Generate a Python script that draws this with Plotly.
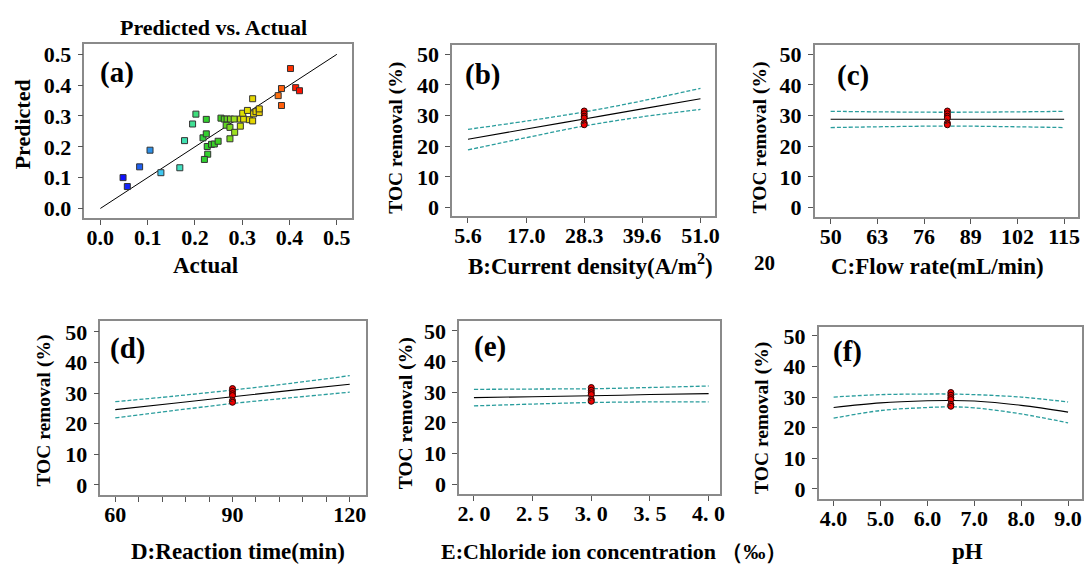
import plotly.graph_objects as go

W, H = 1088, 566

# ---------------- data ----------------
actual = [0.048, 0.057, 0.083, 0.105, 0.128, 0.168, 0.178, 0.195, 0.202, 0.224,
          0.217, 0.224, 0.226, 0.227, 0.220, 0.235, 0.241, 0.249, 0.255, 0.262,
          0.268, 0.275, 0.283, 0.296, 0.303, 0.315, 0.266, 0.274, 0.274, 0.284,
          0.296, 0.301, 0.311, 0.322, 0.322, 0.324, 0.329, 0.336, 0.336, 0.376,
          0.383, 0.383, 0.402, 0.413, 0.421]
predicted = [0.100, 0.071, 0.135, 0.189, 0.116, 0.132, 0.220, 0.274, 0.306, 0.289,
             0.229, 0.242, 0.201, 0.176, 0.159, 0.208, 0.209, 0.218, 0.293, 0.290,
             0.290, 0.290, 0.290, 0.290, 0.290, 0.288, 0.270, 0.263, 0.226, 0.247,
             0.267, 0.309, 0.318, 0.356, 0.284, 0.307, 0.314, 0.311, 0.323, 0.366,
             0.389, 0.334, 0.454, 0.392, 0.382]

b_x = [5.6, 17.0, 28.3, 39.6, 51.0]
b_mean = [22.3, 25.6, 28.9, 32.2, 35.5]
b_upper = [25.5, 28.2, 31.2, 34.8, 38.9]
b_lower = [18.8, 22.8, 26.6, 29.6, 32.0]

c_x = [50, 66, 82.5, 99, 115]
c_mean = [28.8, 28.8, 28.8, 28.8, 28.8]
c_upper = [31.4, 31.2, 31.1, 31.2, 31.4]
c_lower = [26.1, 26.4, 26.6, 26.4, 26.1]

d_x = [60, 75, 90, 105, 120]
d_mean = [24.6, 26.7, 28.8, 30.9, 32.9]
d_upper = [27.2, 29.0, 31.0, 33.2, 35.7]
d_lower = [21.9, 24.3, 26.6, 28.5, 30.3]

e_x = [2.0, 2.5, 3.0, 3.5, 4.0]
e_mean = [28.2, 28.5, 28.8, 29.2, 29.5]
e_upper = [30.9, 31.0, 31.1, 31.5, 32.0]
e_lower = [25.5, 26.1, 26.6, 26.8, 26.8]

f_x = [4.0, 5.0, 6.0, 6.5, 7.0, 8.0, 9.0]
f_mean = [26.6, 28.1, 28.8, 28.9, 28.7, 27.3, 25.1]
f_upper = [30.0, 30.8, 31.0, 31.0, 30.8, 30.0, 28.4]
f_lower = [23.1, 25.6, 26.6, 26.8, 26.5, 24.5, 21.6]

center_x = {"b": 28.3, "c": 82.5, "d": 90, "e": 3.0, "f": 6.5}
center_toc = [31.5, 30.6, 29.8, 29.2, 27.6, 27.0]

a_ticks = [0.0, 0.1, 0.2, 0.3, 0.4, 0.5]
toc_ticks = [0, 10, 20, 30, 40, 50]
b_ticks = [5.6, 17.0, 28.3, 39.6, 51.0]
c_ticks = [50, 63, 76, 89, 102, 115]
d_ticks = [60, 66, 72, 78, 84, 90, 96, 102, 108, 114, 120]
d_labels = ["60", " ", " ", " ", " ", "90", " ", " ", " ", " ", "120"]
e_ticks = [2.0, 2.5, 3.0, 3.5, 4.0]
e_labels = ["2. 0", "2. 5", "3. 0", "3. 5", "4. 0"]
f_ticks = [4.0, 5.0, 6.0, 7.0, 8.0, 9.0]

# ---------------- styling ----------------
FONT = "'Liberation Serif', 'Times New Roman', serif"
TICKF = dict(family=FONT, size=22, color="black", weight="bold")
TEAL = "#2a9d9d"
FRAME = "#8a8a8a"


def px(x):
    return x / W


def py(y):
    return 1 - y / H


fig = go.Figure()

panels = {
    "a": ("", (83, 352), (42, 218), [-0.0336, 0.5315], [-0.032, 0.532]),
    "b": ("2", (453, 718), (43, 216), [2.50, 53.91], [-2.9, 52.9]),
    "c": ("3", (818, 1083), (43, 217), [45.57, 118.87], [-3.2, 52.9]),
    "d": ("4", (99, 366), (322, 498), [56.19, 124.07], [-3.23, 53.55]),
    "e": ("5", (460, 723), (322, 497), [1.873, 4.10], [-3.2, 53.2]),
    "f": ("6", (822, 1087), (328, 502), [3.682, 9.297], [-3.2, 52.9]),
}

xticks = {
    "a": (a_ticks, ["%.1f" % v for v in a_ticks]),
    "b": (b_ticks, ["%.1f" % v for v in b_ticks]),
    "c": (c_ticks, [str(v) for v in c_ticks]),
    "d": (d_ticks, d_labels),
    "e": (e_ticks, e_labels),
    "f": (f_ticks, ["%.1f" % v for v in f_ticks]),
}

for name, (sfx, (x0, x1), (yt, yb), xr, yr) in panels.items():
    xa = "xaxis" + sfx
    ya = "yaxis" + sfx
    tv, tt = xticks[name]
    if name == "a":
        ytv, ytt = a_ticks, ["%.1f" % v for v in a_ticks]
    else:
        ytv, ytt = toc_ticks, [str(v) for v in toc_ticks]
    fig.layout[xa] = dict(domain=[px(x0), px(x1)], range=xr, anchor="y" + sfx,
                          showgrid=False, zeroline=False, showline=True, mirror=True,
                          linecolor=FRAME, linewidth=1.5, ticks="outside", ticklen=5,
                          tickcolor="#555", tickvals=tv, ticktext=tt, tickfont=TICKF,
                          ticklabelstandoff=-6)
    fig.layout[ya] = dict(domain=[py(yb), py(yt)], range=yr, anchor="x" + sfx,
                          showgrid=False, zeroline=False, showline=True, mirror=True,
                          linecolor=FRAME, linewidth=1.5, ticks="outside", ticklen=5,
                          tickcolor="#555", tickvals=ytv, ticktext=ytt, tickfont=TICKF,
                          ticklabelstandoff=2)

# ---- panel (a) ----
cscale = [[0.0, "#1010ff"], [0.094, "#2060f0"], [0.153, "#2c90e8"], [0.214, "#40c8f0"],
          [0.322, "#40e0c0"], [0.40, "#40e090"], [0.46, "#30d030"], [0.56, "#40d020"],
          [0.635, "#a0e020"], [0.68, "#e0e000"], [0.77, "#e8d000"], [0.88, "#ff7010"],
          [0.95, "#ff3000"], [1.0, "#ff1000"]]
fig.add_trace(go.Scatter(x=[0, 0.5], y=[0, 0.5], mode="lines",
                         line=dict(color="black", width=1), xaxis="x", yaxis="y",
                         showlegend=False, hoverinfo="skip"))
fig.add_trace(go.Scatter(x=actual, y=predicted, mode="markers", xaxis="x", yaxis="y",
                         marker=dict(symbol="square", size=6, color=actual,
                                     colorscale=cscale, cmin=min(actual), cmax=max(actual),
                                     line=dict(color="#333", width=1)),
                         showlegend=False))

# ---- panels (b)-(f) ----
line_data = {
    "b": (b_x, b_mean, b_upper, b_lower),
    "c": (c_x, c_mean, c_upper, c_lower),
    "d": (d_x, d_mean, d_upper, d_lower),
    "e": (e_x, e_mean, e_upper, e_lower),
    "f": (f_x, f_mean, f_upper, f_lower),
}
for name, (xs, m, u, lo) in line_data.items():
    sfx = panels[name][0]
    for ys in (u, lo):
        fig.add_trace(go.Scatter(x=xs, y=ys, mode="lines", line_shape="spline",
                                 line=dict(color=TEAL, width=1.3, dash="4px,2px"),
                                 xaxis="x" + sfx, yaxis="y" + sfx, showlegend=False))
    fig.add_trace(go.Scatter(x=xs, y=m, mode="lines", line_shape="spline",
                             line=dict(color="black", width=1.1),
                             xaxis="x" + sfx, yaxis="y" + sfx, showlegend=False))
    cx = center_x[name]
    fig.add_trace(go.Scatter(x=[cx] * len(center_toc), y=center_toc, mode="markers",
                             marker=dict(symbol="circle", size=6, color="#ee0000",
                                         line=dict(color="#300000", width=1)),
                             xaxis="x" + sfx, yaxis="y" + sfx, showlegend=False))
    fig.add_trace(go.Scatter(x=[cx], y=[27.9], mode="text", text=["2"],
                             textposition="middle left",
                             textfont=dict(family=FONT, size=8, color="#333"),
                             xaxis="x" + sfx, yaxis="y" + sfx, showlegend=False))

# ---------------- text ----------------
def ann(text, x, y, size=23, angle=0, xanchor="center"):
    fig.add_annotation(text=text, x=px(x), y=py(y), xref="paper", yref="paper",
                       showarrow=False, textangle=angle, xanchor=xanchor,
                       yanchor="middle",
                       font=dict(family=FONT, size=size, color="black", weight="bold"))

ann("Predicted vs. Actual", 213, 25, size=22)
ann("Predicted", 21, 123, size=22, angle=-90)
ann("Actual", 205, 266)
ann("TOC removal (%)", 397, 136, size=19.5, angle=-90)
ann("B:Current density(A/m<sup>2</sup>)", 592, 265)
ann("TOC removal (%)", 763, 136, size=19.5, angle=-90)
ann("C:Flow rate(mL/min)", 942, 267)
ann("20", 767, 263, size=21)
ann("TOC removal (%)", 42, 413, size=19.5, angle=-90)
ann("D:Reaction time(min)", 238, 555)
ann("TOC removal (%)", 406, 415, size=19.5, angle=-90)
ann("E:Chloride ion concentration （‰）", 440, 555, xanchor="left", size=22)
ann("TOC removal (%)", 765, 420, size=19.5, angle=-90)
ann("pH", 972, 555)

ann("(a)", 97, 70, size=29, xanchor="left")
ann("(b)", 464, 72, size=29, xanchor="left")
ann("(c)", 838, 73, size=29, xanchor="left")
ann("(d)", 107, 350, size=29, xanchor="left")
ann("(e)", 473, 348, size=29, xanchor="left")
ann("(f)", 834, 353, size=29, xanchor="left")

fig.update_layout(width=W, height=H, margin=dict(l=0, r=0, t=0, b=0),
                  paper_bgcolor="white", plot_bgcolor="white", showlegend=False,
                  font=dict(family=FONT))

fig.write_html("out.html")
